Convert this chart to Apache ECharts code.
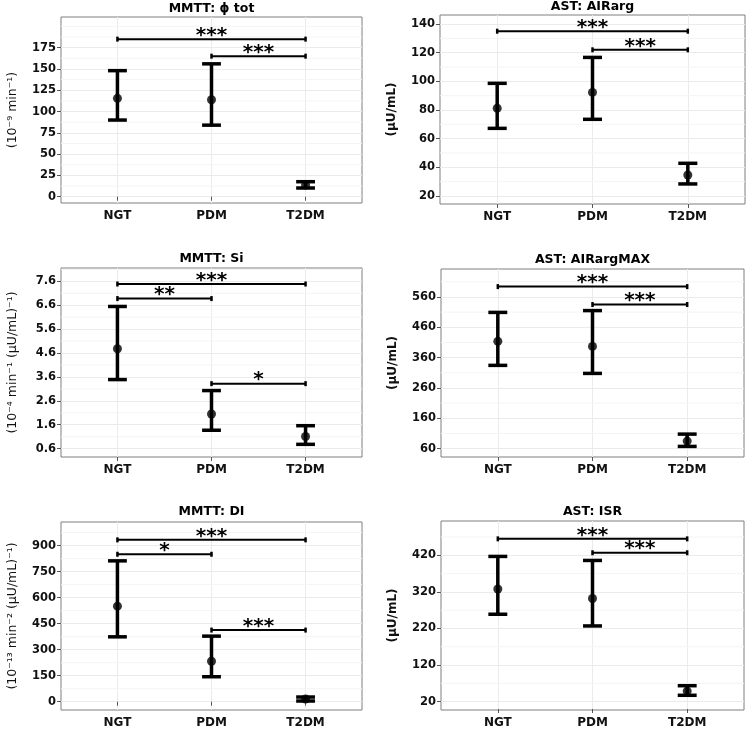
<!DOCTYPE html>
<html><head><meta charset="utf-8">
<script src="https://cdn.jsdelivr.net/npm/echarts@6/dist/echarts.min.js"></script>
<style>html,body{margin:0;padding:0;background:#fff}#c{width:750px;height:730px}</style>
</head><body><div id="c"></div>
<script>
const categories = ['NGT', 'PDM', 'T2DM'];

const phiMean = [115.5, 113.8, 13.7];
const phiLow = [90, 84, 10.2];
const phiHigh = [148, 156, 17.6];
const phiTicks = [0, 25, 50, 75, 100, 125, 150, 175];
const phiSig = [[1, 3, 185, '***'], [2, 3, 165, '***']];

const airMean = [81.2, 92.3, 34.6];
const airLow = [67.2, 73.5, 28.4];
const airHigh = [98.6, 116.7, 42.8];
const airTicks = [20, 40, 60, 80, 100, 120, 140];
const airSig = [[1, 3, 135, '***'], [2, 3, 122, '***']];

const siMean = [4.78, 2.05, 1.11];
const siLow = [3.49, 1.37, 0.78];
const siHigh = [6.55, 3.03, 1.56];
const siTicks = [0.6, 1.6, 2.6, 3.6, 4.6, 5.6, 6.6, 7.6];
const siSig = [[1, 3, 7.49, '***'], [1, 2, 6.88, '**'], [2, 3, 3.32, '*']];

const airMaxMean = [413.6, 397, 85];
const airMaxLow = [334.5, 308, 67.5];
const airMaxHigh = [509, 515, 108];
const airMaxTicks = [60, 160, 260, 360, 460, 560];
const airMaxSig = [[1, 3, 594, '***'], [2, 3, 535, '***']];

const diMean = [551, 233, 15.5];
const diLow = [374, 144, 4];
const diHigh = [812, 378, 27];
const diTicks = [0, 150, 300, 450, 600, 750, 900];
const diSig = [[1, 3, 933, '***'], [1, 2, 850, '*'], [2, 3, 413, '***']];

const isrMean = [328, 302, 49];
const isrLow = [259, 227, 37.5];
const isrHigh = [417, 406, 63.7];
const isrTicks = [20, 120, 220, 320, 420];
const isrSig = [[1, 3, 465, '***'], [2, 3, 427, '***']];

const panels = [
  {title: 'MMTT: \u03D5 tot', yName: '(10\u207B\u2079 min\u207B\u00B9)', bold: false, mean: phiMean, low: phiLow, high: phiHigh, ticks: phiTicks, sig: phiSig, yMin: -7.4, yMax: 211, box: [61, 17, 301, 186], titleTop: 2},
  {title: 'AST: AIRarg', yName: '(\u03BCU/mL)', bold: true, mean: airMean, low: airLow, high: airHigh, ticks: airTicks, sig: airSig, yMin: 14.4, yMax: 146.3, box: [440, 15, 305, 189], titleTop: 0},
  {title: 'MMTT: Si', yName: '(10\u207B\u2074 min\u207B\u00B9 (\u03BCU/mL)\u207B\u00B9)', bold: false, mean: siMean, low: siLow, high: siHigh, ticks: siTicks, sig: siSig, yMin: 0.25, yMax: 8.16, box: [61, 268, 301, 189], titleTop: 252},
  {title: 'AST: AIRargMAX', yName: '(\u03BCU/mL)', bold: true, mean: airMaxMean, low: airMaxLow, high: airMaxHigh, ticks: airMaxTicks, sig: airMaxSig, yMin: 32.6, yMax: 652, box: [441, 269, 303, 188], titleTop: 253},
  {title: 'MMTT: DI', yName: '(10\u207B\u00B9\u00B3 min\u207B\u00B2 (\u03BCU/mL)\u207B\u00B9)', bold: false, mean: diMean, low: diLow, high: diHigh, ticks: diTicks, sig: diSig, yMin: -47.8, yMax: 1036, box: [61, 522, 301, 188], titleTop: 505},
  {title: 'AST: ISR', yName: '(\u03BCU/mL)', bold: true, mean: isrMean, low: isrLow, high: isrHigh, ticks: isrTicks, sig: isrSig, yMin: -2.7, yMax: 513.8, box: [441, 521, 303, 189], titleTop: 505}
];

const FONT = '"DejaVu Sans", sans-serif';
const X_MIN = 0.4, X_MAX = 3.6;
const catPos = categories.map((c, i) => i + 1);

function minorValues(ticks, lo, hi) {
  const d = ticks[1] - ticks[0];
  const out = [];
  const ext = [ticks[0] - d, ...ticks, ticks[ticks.length - 1] + d];
  for (let i = 0; i < ext.length - 1; i++) {
    const m = (ext[i] + ext[i + 1]) / 2;
    if (m > lo && m < hi) out.push(m);
  }
  const last = ext[ext.length - 1];
  if (last > lo && last < hi) out.push(last);
  if (ext[0] > lo && ext[0] < hi) out.push(ext[0]);
  return out;
}

const option = {animation: false, backgroundColor: '#fff', title: [], grid: [], xAxis: [], yAxis: [], series: []};

panels.forEach((p, i) => {
  const [l, t, w, h] = p.box;
  option.grid.push({left: l, top: t, width: w, height: h, show: true, borderColor: '#7f7f7f', borderWidth: 1, backgroundColor: '#fff'});
  option.title.push({
    text: p.title, left: l + w / 2, top: p.titleTop, textAlign: 'center', padding: 0,
    textStyle: {fontFamily: FONT, fontSize: 12.5, fontWeight: 'bold', color: '#000'}
  });
  option.xAxis.push({
    type: 'value', gridIndex: i, min: X_MIN, max: X_MAX,
    axisLine: {show: false},
    axisTick: {show: true, length: 4, customValues: catPos, lineStyle: {color: '#555'}},
    axisLabel: {customValues: catPos, formatter: v => categories[Math.round(v) - 1] || '', margin: 7,
      fontFamily: FONT, fontSize: 12, fontWeight: 'bold', color: '#111'},
    splitLine: {show: true, lineStyle: {color: '#ebebeb', width: 1}}
  });
  option.yAxis.push({
    type: 'value', gridIndex: i, min: p.yMin, max: p.yMax,
    name: p.yName, nameLocation: 'middle', nameRotate: 90, nameGap: 42,
    nameTextStyle: {fontFamily: FONT, fontSize: p.bold ? 12 : 12.5, fontWeight: p.bold ? 'bold' : 'normal', color: '#111'},
    axisLine: {show: false},
    axisTick: {show: true, length: 4, customValues: p.ticks, lineStyle: {color: '#555'}},
    axisLabel: {customValues: p.ticks, margin: 5, fontFamily: FONT, fontSize: 11.5, fontWeight: 'bold', color: '#111'},
    splitLine: {show: true, lineStyle: {color: '#ebebeb', width: 1}}
  });
  // minor grid lines
  option.series.push({
    type: 'custom', xAxisIndex: i, yAxisIndex: i, silent: true, z: 1,
    data: minorValues(p.ticks, p.yMin, p.yMax).map(v => [2, v]),
    renderItem: (params, api) => {
      const v = api.value(1);
      const a = api.coord([X_MIN, v]), b = api.coord([X_MAX, v]);
      return {type: 'line', shape: {x1: a[0], y1: a[1], x2: b[0], y2: b[1]}, style: {stroke: '#f4f4f4', lineWidth: 1}};
    }
  });
  // error bars
  option.series.push({
    type: 'custom', xAxisIndex: i, yAxisIndex: i, z: 3,
    data: catPos.map((x, k) => [x, p.low[k], p.high[k]]),
    renderItem: (params, api) => {
      const x = api.value(0);
      const a = api.coord([x, api.value(1)]);
      const b = api.coord([x, api.value(2)]);
      const half = api.size([0.1, 0])[0];
      const st = {stroke: '#000', lineWidth: 3.5};
      return {type: 'group', children: [
        {type: 'line', shape: {x1: a[0], y1: a[1], x2: b[0], y2: b[1]}, style: st},
        {type: 'line', shape: {x1: a[0] - half, y1: a[1], x2: a[0] + half, y2: a[1]}, style: st},
        {type: 'line', shape: {x1: b[0] - half, y1: b[1], x2: b[0] + half, y2: b[1]}, style: st}
      ]};
    }
  });
  // means
  option.series.push({
    type: 'scatter', xAxisIndex: i, yAxisIndex: i, z: 4, symbolSize: 9,
    itemStyle: {color: '#000'},
    data: catPos.map((x, k) => [x, p.mean[k]])
  });
  // significance brackets
  option.series.push({
    type: 'custom', xAxisIndex: i, yAxisIndex: i, z: 5,
    data: p.sig.map(s => [s[0], s[1], s[2]]),
    renderItem: (params, api) => {
      const y = api.value(2);
      const a = api.coord([api.value(0), y]);
      const b = api.coord([api.value(1), y]);
      const lbl = p.sig[params.dataIndex][3];
      const st = {stroke: '#000', lineWidth: 2};
      const tk = {stroke: '#000', lineWidth: 2.5};
      return {type: 'group', children: [
        {type: 'line', shape: {x1: a[0], y1: a[1], x2: b[0], y2: b[1]}, style: st},
        {type: 'line', shape: {x1: a[0], y1: a[1] - 2.5, x2: a[0], y2: a[1] + 2.5}, style: tk},
        {type: 'line', shape: {x1: b[0], y1: b[1] - 2.5, x2: b[0], y2: b[1] + 2.5}, style: tk},
        {type: 'text', x: (a[0] + b[0]) / 2, y: a[1] + 6.5, style: {text: lbl, fill: '#000', font: 'bold 20px ' + FONT, align: 'center', verticalAlign: 'bottom'}}
      ]};
    }
  });
});

const chart = echarts.init(document.getElementById('c'), null, {renderer: 'canvas'});
chart.setOption(option);
</script>
</body></html>
